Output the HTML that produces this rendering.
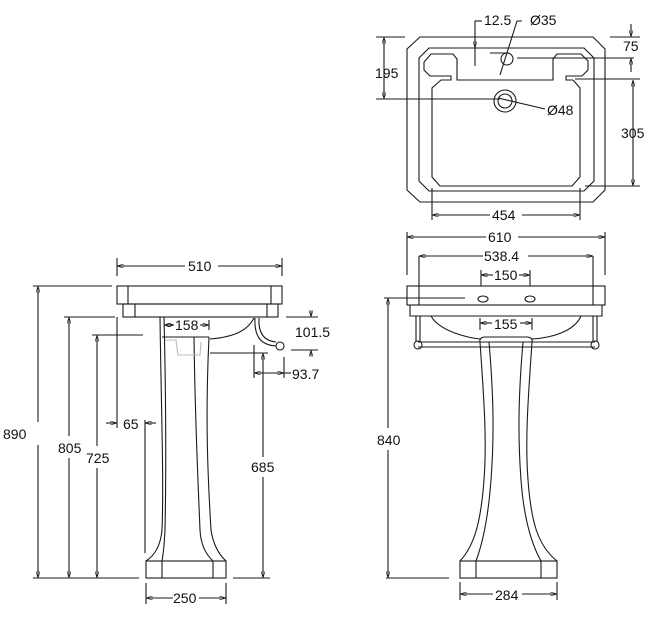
<!DOCTYPE html>
<html><head><meta charset="utf-8"><style>
html,body{margin:0;padding:0;background:#fff;}
svg{display:block;}
text{font-family:"Liberation Sans",sans-serif;font-size:14px;fill:#111;}
</style></head><body>
<svg width="669" height="618" viewBox="0 0 669 618" xmlns="http://www.w3.org/2000/svg">
<defs>
<marker id="a" viewBox="0 0 10 6" refX="10" refY="3" markerWidth="6" markerHeight="4" orient="auto-start-reverse"><path d="M0,0 L10,3 L0,6 z" fill="none" stroke="#222" stroke-width="1"/></marker>
</defs>
<g fill="none" stroke="#1a1a1a" stroke-width="1.1">
<!-- TOP VIEW -->
<path d="M420,37 L593,37 L605,49 L605,190 L593,202 L420,202 L407,190 L407,49 Z"/>
<path d="M429,48 L584,48 L594,58 L594,181 L584,191 L429,191 L419,181 L419,58 Z"/>
<path d="M424,62 L431,54 L453,54 L457,59 L457,80 L553,80 L553,59 L557,54 L581,54 L588,61 L588,70 L582,76 L566,76 L566,80 L573,80"/>
<path d="M424,62 L424,70 L430,76 L451,76 L451,80 L441,80 L432,88 L432,177 L440,186 L572,186 L580,177 L580,88 L573,80"/>
<circle cx="507" cy="59" r="6"/>
<circle cx="505" cy="101" r="11"/><circle cx="505" cy="101" r="7"/>
<line x1="376" y1="37" x2="405" y2="37"/>
<line x1="376" y1="99" x2="500" y2="99"/>
<line x1="384" y1="37" x2="384" y2="99" marker-start="url(#a)" marker-end="url(#a)"/>
<line x1="490" y1="53" x2="509" y2="53"/>
<line x1="475" y1="21" x2="475" y2="66"/><line x1="475" y1="21" x2="482" y2="21"/>
<line x1="475" y1="40" x2="475" y2="48" marker-end="url(#a)"/>
<polyline points="500,75 517,21 522,21"/>
<line x1="498" y1="98" x2="545" y2="109"/>
<line x1="517" y1="58" x2="634" y2="58"/>
<line x1="575" y1="79" x2="640" y2="79"/>
<line x1="610" y1="37" x2="640" y2="37"/>
<line x1="631" y1="24" x2="631" y2="37" marker-end="url(#a)"/>
<line x1="631" y1="72" x2="631" y2="58" marker-end="url(#a)"/>
<line x1="633" y1="80" x2="633" y2="186" marker-start="url(#a)" marker-end="url(#a)"/>
<line x1="585" y1="186" x2="640" y2="186"/>
<line x1="432" y1="188" x2="432" y2="220"/><line x1="580" y1="188" x2="580" y2="220"/>
<line x1="432" y1="215" x2="490" y2="215" marker-start="url(#a)"/><line x1="522" y1="215" x2="580" y2="215" marker-end="url(#a)"/>
<!-- SIDE VIEW -->
<rect x="117" y="286" width="165" height="18"/>
<line x1="128" y1="286" x2="128" y2="304"/><line x1="271" y1="286" x2="271" y2="304"/>
<rect x="123" y="304" width="155" height="13"/>
<line x1="135" y1="304" x2="135" y2="317"/><line x1="267" y1="304" x2="267" y2="317"/>
<line x1="117" y1="258" x2="117" y2="276"/><line x1="282" y1="258" x2="282" y2="276"/>
<line x1="117" y1="266" x2="185" y2="266" marker-start="url(#a)"/><line x1="218" y1="266" x2="282" y2="266" marker-end="url(#a)"/>
<path d="M160,317 C161,400 164,480 162,530 Q160,552 146,561"/>
<path d="M164,317 C166,400 166,480 165,530 Q164,550 162,561"/>
<path d="M209,337 C205,420 208,480 211,530 Q214,550 226,561"/>
<path d="M194,337 C195,420 198,480 200,530 Q201,550 213,561"/>
<line x1="162" y1="337" x2="209" y2="337"/>
<path d="M210,339 C235,337 248,330 254,318"/>
<path d="M255,318 C254,338 262,345 276,346"/><path d="M259,318 C258,334 265,341 276,342"/>
<circle cx="280" cy="346" r="4"/>
<path d="M165,340 L176,340 L178,355 L200,355 L201,342" stroke="#bbb"/>
<rect x="146" y="561" width="80" height="17"/>
<line x1="162" y1="561" x2="162" y2="578"/><line x1="213" y1="561" x2="213" y2="578"/>
<line x1="33" y1="286" x2="112" y2="286"/>
<line x1="64" y1="317" x2="115" y2="317"/>
<line x1="92" y1="335" x2="143" y2="335"/>
<line x1="33" y1="578" x2="139" y2="578"/><line x1="233" y1="578" x2="270" y2="578"/>
<line x1="38" y1="286" x2="38" y2="422" marker-start="url(#a)"/><line x1="38" y1="445" x2="38" y2="578" marker-end="url(#a)"/>
<line x1="69" y1="317" x2="69" y2="436" marker-start="url(#a)"/><line x1="69" y1="458" x2="69" y2="578" marker-end="url(#a)"/>
<line x1="97" y1="335" x2="97" y2="446" marker-start="url(#a)"/><line x1="97" y1="468" x2="97" y2="578" marker-end="url(#a)"/>
<line x1="117" y1="317" x2="117" y2="428"/><line x1="145" y1="420" x2="145" y2="553"/>
<line x1="106" y1="423" x2="117" y2="423" marker-end="url(#a)"/><line x1="156" y1="423" x2="145" y2="423" marker-end="url(#a)"/>
<line x1="164" y1="325" x2="174" y2="325" marker-end="url(#a)" marker-start="url(#a)"/>
<line x1="200" y1="325" x2="209" y2="325" marker-end="url(#a)"/><line x1="209" y1="320" x2="209" y2="330"/>
<line x1="286" y1="317" x2="318" y2="317"/><line x1="291" y1="350" x2="318" y2="350"/>
<line x1="311" y1="311" x2="311" y2="317" marker-end="url(#a)"/><line x1="311" y1="356" x2="311" y2="350" marker-end="url(#a)"/>
<line x1="254" y1="345" x2="254" y2="378"/><line x1="284" y1="357" x2="284" y2="378"/>
<line x1="254" y1="373" x2="284" y2="373" marker-start="url(#a)" marker-end="url(#a)"/><line x1="284" y1="373" x2="291" y2="373"/>
<line x1="210" y1="353" x2="268" y2="353"/>
<line x1="263" y1="353" x2="263" y2="457" marker-start="url(#a)"/><line x1="263" y1="477" x2="263" y2="578" marker-end="url(#a)"/>
<line x1="146" y1="583" x2="146" y2="604"/><line x1="226" y1="583" x2="226" y2="604"/>
<line x1="146" y1="598" x2="173" y2="598" marker-start="url(#a)"/><line x1="199" y1="598" x2="226" y2="598" marker-end="url(#a)"/>
<!-- FRONT VIEW -->
<rect x="407" y="286" width="198" height="19"/>
<path d="M410,305 L410,316 L602,316 L602,305"/>
<line x1="419" y1="256" x2="419" y2="305"/><line x1="593" y1="256" x2="593" y2="305"/>
<line x1="407" y1="232" x2="407" y2="275"/><line x1="605" y1="232" x2="605" y2="275"/>
<line x1="407" y1="237" x2="486" y2="237" marker-start="url(#a)"/><line x1="518" y1="237" x2="605" y2="237" marker-end="url(#a)"/>
<line x1="419" y1="256" x2="483" y2="256" marker-start="url(#a)"/><line x1="528" y1="256" x2="593" y2="256" marker-end="url(#a)"/>
<line x1="481" y1="270" x2="481" y2="286"/><line x1="530" y1="270" x2="530" y2="286"/>
<line x1="481" y1="275" x2="493" y2="275" marker-start="url(#a)"/><line x1="519" y1="275" x2="530" y2="275" marker-end="url(#a)"/>
<ellipse cx="483" cy="299" rx="5" ry="3"/><ellipse cx="530" cy="299" rx="5" ry="3"/>
<path d="M431,316 C440,332 470,338 480,339"/><path d="M532,339 C550,338 574,332 581,316"/>
<line x1="416" y1="316" x2="416" y2="342"/><line x1="420" y1="316" x2="420" y2="342"/>
<line x1="593" y1="316" x2="593" y2="342"/><line x1="597" y1="316" x2="597" y2="342"/>
<line x1="418" y1="342" x2="595" y2="342"/><line x1="418" y1="347" x2="595" y2="347"/>
<circle cx="418" cy="345" r="4"/><circle cx="595" cy="345" r="4"/>
<line x1="480" y1="318" x2="480" y2="330"/><line x1="532" y1="318" x2="532" y2="330"/>
<line x1="480" y1="323" x2="492" y2="323" marker-start="url(#a)"/><line x1="520" y1="323" x2="532" y2="323" marker-end="url(#a)"/>
<path d="M484,337 L528,337 Q533,338 532,342 C528,400 525,440 528,480 C531,520 537,545 557,561"/>
<path d="M484,337 Q479,338 480,342 C484,400 487,440 484,480 C481,520 475,545 460,561"/>
<path d="M489,342 C494,400 494,440 491,480 C488,520 482,545 476,561"/>
<path d="M523,342 C518,400 518,440 521,480 C524,520 532,545 541,561"/>
<rect x="460" y="561" width="97" height="17"/>
<line x1="476" y1="561" x2="476" y2="578"/><line x1="541" y1="561" x2="541" y2="578"/>
<line x1="384" y1="298" x2="465" y2="298"/>
<line x1="386" y1="578" x2="449" y2="578"/>
<line x1="388" y1="298" x2="388" y2="428" marker-start="url(#a)"/><line x1="388" y1="450" x2="388" y2="578" marker-end="url(#a)"/>
<line x1="460" y1="582" x2="460" y2="600"/><line x1="557" y1="582" x2="557" y2="600"/>
<line x1="460" y1="594" x2="493" y2="594" marker-start="url(#a)"/><line x1="522" y1="594" x2="557" y2="594" marker-end="url(#a)"/>
</g>
<g>
<text x="484" y="25">12.5</text><text x="530" y="25">Ø35</text>
<text x="375" y="78">195</text><text x="623" y="51">75</text>
<text x="621" y="138">305</text><text x="547" y="115">Ø48</text>
<text x="492" y="220">454</text>
<text x="188" y="271">510</text><text x="175" y="330">158</text>
<text x="295" y="337">101.5</text><text x="292" y="379">93.7</text>
<text x="123" y="429">65</text>
<text x="3" y="439">890</text><text x="58" y="453">805</text><text x="86" y="463">725</text>
<text x="251" y="472">685</text><text x="173" y="603">250</text>
<text x="488" y="242">610</text><text x="484" y="261">538.4</text>
<text x="494" y="280">150</text><text x="494" y="329">155</text>
<text x="377" y="445">840</text><text x="495" y="600">284</text>
</g>
</svg>
</body></html>
